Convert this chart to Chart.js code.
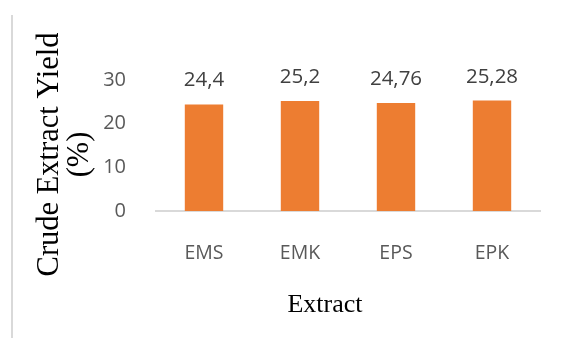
<!DOCTYPE html>
<html>
<head>
<meta charset="utf-8">
<script src="https://cdn.jsdelivr.net/npm/chart.js@4.4.1/dist/chart.umd.min.js"></script>
<style>
  html, body { margin:0; padding:0; background:#fff; }
  .frame { position:relative; width:564px; height:338px; overflow:hidden; }
  .frame .edge { position:absolute; left:11px; top:15px; bottom:0; width:2px; background:#d9d9d9; }
  canvas { position:absolute; left:0; top:0; }
</style>
</head>
<body>
<div class="frame">
  <div class="edge"></div>
  <canvas id="chart" width="564" height="338"></canvas>
</div>
<script>
/* ---------- Data ---------- */
const categories = ['EMS', 'EMK', 'EPS', 'EPK'];
const yields = [24.4, 25.2, 24.76, 25.28];
const yMin = 0, yMax = 30, yStep = 10;
const yTitleLines = ['Crude Extract Yield', '(%)'];
const xTitle = 'Extract';

const BAR = '#ED7D31';
const TICK = '#595959';
const LABEL = '#404040';
const SANS = '"Open Sans", sans-serif';
const SERIF = '"Liberation Serif", "Times New Roman", serif';

/* ---------- Value labels above bars (comma decimals) ---------- */
const valueLabels = {
  id: 'valueLabels',
  afterDatasetsDraw(chart){
    const { ctx } = chart;
    const meta = chart.getDatasetMeta(0);
    ctx.save();
    ctx.font = '20.5px ' + SANS;
    ctx.fillStyle = LABEL;
    ctx.textAlign = 'center';
    ctx.textBaseline = 'alphabetic';
    meta.data.forEach((bar, i) => {
      ctx.fillText(String(yields[i]).replace('.', ','), bar.x, bar.y - 18);
    });
    ctx.restore();
  }
};

/* ---------- Axis titles (serif, Word-style placement) ---------- */
const axisTitles = {
  id: 'axisTitles',
  afterDraw(chart){
    const { ctx, chartArea:a } = chart;
    ctx.save();
    ctx.fillStyle = '#000';
    ctx.textAlign = 'center';
    ctx.textBaseline = 'middle';

    // y title, rotated, two lines
    ctx.font = '30.5px ' + SERIF;
    const cy = (a.top + a.bottom) / 2 + 9;
    ctx.translate(a.left - 106, cy);
    ctx.rotate(-Math.PI / 2);
    ctx.fillText(yTitleLines[0], 0, 0);
    ctx.fillText(yTitleLines[1], 0, 30);
    ctx.setTransform(1, 0, 0, 1, 0, 0);

    // x title
    ctx.font = '26px ' + SERIF;
    ctx.fillText(xTitle, a.left + 169, a.bottom + 94);
    ctx.restore();
  }
};

new Chart(document.getElementById('chart').getContext('2d'), {
  type: 'bar',
  data: {
    labels: categories,
    datasets: [{
      data: yields,
      backgroundColor: BAR,
      borderWidth: 0,
      barPercentage: 0.4,
      categoryPercentage: 1.0
    }]
  },
  options: {
    responsive: false,
    animation: false,
    layout: { padding: { top: 80, right: 24, left: 0, bottom: 0 } },
    plugins: { legend: { display: false }, tooltip: { enabled: false } },
    scales: {
      y: {
        min: yMin, max: yMax,
        ticks: { stepSize: yStep, padding: 22, color: TICK, font: { family: SANS, size: 20 } },
        grid: { display: false },
        border: { display: false },
        afterFit: (s) => { s.width = 156; }
      },
      x: {
        ticks: { padding: 23, color: TICK, font: { family: SANS, size: 19.5 } },
        grid: { display: false },
        border: { display: true, color: '#d9d9d9', width: 2 },
        afterFit: (s) => { s.height = 127; }
      }
    }
  },
  plugins: [valueLabels, axisTitles]
});
</script>
</body>
</html>
